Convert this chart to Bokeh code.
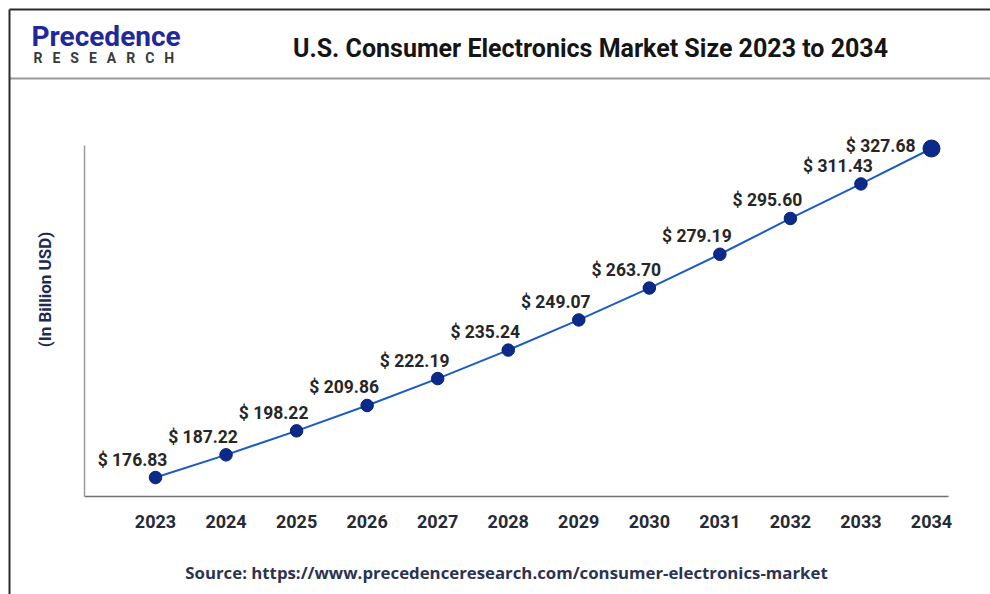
from bokeh.plotting import figure
from bokeh.models import FixedTicker
from bokeh.core.properties import value
from bokeh.embed import file_html
from bokeh.resources import INLINE
import math

# ---------------- data ----------------
years = [2023, 2024, 2025, 2026, 2027, 2028, 2029, 2030, 2031, 2032, 2033, 2034]
sizes = [176.83, 187.22, 198.22, 209.86, 222.19, 235.24, 249.07, 263.70, 279.19, 295.60, 311.43, 327.68]
value_labels = ["$ 176.83", "$ 187.22", "$ 198.22", "$ 209.86", "$ 222.19", "$ 235.24",
                "$ 249.07", "$ 263.70", "$ 279.19", "$ 295.60", "$ 311.43", "$ 327.68"]
year_labels = [str(y) for y in years]
title_text = "U.S. Consumer Electronics Market Size 2023 to 2034"
y_axis_title = "(In Billion USD)"
source_text = "Source: https://www.precedenceresearch.com/consumer-electronics-market"
logo_top = "Precedence"
logo_bottom = "\u2002\u2009".join("RESEARCH")

# ---------------- geometry (frame = whole canvas) ----------------
W, H = 990, 594
X0, X1 = 2020.8028, 2034.8364
Y0, Y1 = 123.185, 395.54


def sx2x(px):
    return X0 + px / W * (X1 - X0)


def sy2y(py):
    return Y1 - py / H * (Y1 - Y0)


FONT = "Roboto"

p = figure(width=W, height=H, x_range=(X0, X1), y_range=(Y0, Y1),
           output_backend="svg", toolbar_location=None, title_location=None,
           min_border=0, min_border_left=0, min_border_right=0,
           min_border_top=0, min_border_bottom=0)
p.xgrid.visible = False
p.ygrid.visible = False
p.outline_line_color = None
p.background_fill_color = "white"
p.border_fill_color = "white"

# y axis: line only, fixed inside the canvas
p.yaxis.fixed_location = sx2x(84)
p.yaxis.bounds = (sy2y(496), sy2y(145))
p.yaxis.ticker = FixedTicker(ticks=[])
p.yaxis.major_label_text_font_size = "0px"
p.yaxis.major_tick_line_color = None
p.yaxis.minor_tick_line_color = None
p.yaxis.axis_line_color = "#9a9a9a"
p.yaxis.axis_line_width = 1.5

# x axis
p.xaxis.fixed_location = sy2y(496)
p.xaxis.bounds = (sx2x(84), sx2x(948))
p.xaxis.ticker = FixedTicker(ticks=years)
p.xaxis.major_label_overrides = {y: l for y, l in zip(years, year_labels)}
p.xaxis.major_tick_line_color = None
p.xaxis.minor_tick_line_color = None
p.xaxis.axis_line_color = "#707070"
p.xaxis.axis_line_width = 1.5
p.xaxis.major_label_text_font = FONT
p.xaxis.major_label_text_font_style = "bold"
p.xaxis.major_label_text_font_size = "18px"
p.xaxis.major_label_text_color = "#262a36"
p.xaxis.major_label_standoff = 12

# border + header divider (decoration)
p.segment(x0=[sx2x(9)], y0=[sy2y(78)], x1=[sx2x(995)], y1=[sy2y(78)],
          line_color="#9a9a9a", line_width=2)
p.segment(x0=[sx2x(9)], y0=[sy2y(9)], x1=[sx2x(995)], y1=[sy2y(9)],
          line_color="#2b2b2b", line_width=2)
p.segment(x0=[sx2x(9)], y0=[sy2y(9)], x1=[sx2x(9)], y1=[sy2y(600)],
          line_color="#2b2b2b", line_width=2)

# line and markers
p.line(years, sizes, line_color="#1c5bc2", line_width=2)
p.scatter(years[:-1], sizes[:-1], size=12.5, fill_color="#0b2a8a", line_color="#08206e")
p.scatter(years[-1:], sizes[-1:], size=17, fill_color="#0b2a8a", line_color="#08206e")

# value labels
p.text(x=years[:-1], y=sizes[:-1], text=value_labels[:-1], x_offset=-23, y_offset=-18,
       text_align="center", text_baseline="middle", text_font=value(FONT),
       text_font_style="bold", text_font_size="17.5px", text_color="#262626")
p.text(x=years[-1:], y=sizes[-1:], text=value_labels[-1:], x_offset=-16, y_offset=-3,
       text_align="right", text_baseline="middle", text_font=value(FONT),
       text_font_style="bold", text_font_size="17.5px", text_color="#262626")

# header / footer texts
p.text(x=[sx2x(590)], y=[sy2y(48)], text=[title_text], text_align="center",
       text_baseline="middle", text_font=value(FONT), text_font_style="bold",
       text_font_size="25px", text_color="#151515")
p.text(x=[sx2x(44)], y=[sy2y(289)], text=[y_axis_title], angle=math.pi / 2,
       text_align="center", text_baseline="middle", text_font=value(FONT),
       text_font_style="bold", text_font_size="17px", text_color="#1d2a55")
p.text(x=[sx2x(506)], y=[sy2y(572)], text=[source_text], text_align="center",
       text_baseline="middle", text_font=value("Open Sans"), text_font_style="bold",
       text_font_size="16.8px", text_color="#2b3350")
p.text(x=[sx2x(31)], y=[sy2y(36)], text=[logo_top], text_align="left",
       text_baseline="middle", text_font=value(FONT), text_font_style="bold",
       text_font_size="28px", text_color="#22289a")
p.text(x=[sx2x(33)], y=[sy2y(57)], text=[logo_bottom], text_align="left",
       text_baseline="middle", text_font=value(FONT), text_font_style="bold",
       text_font_size="14px", text_color="#3a3a3a")

open("out.html", "w").write(file_html(p, INLINE))
